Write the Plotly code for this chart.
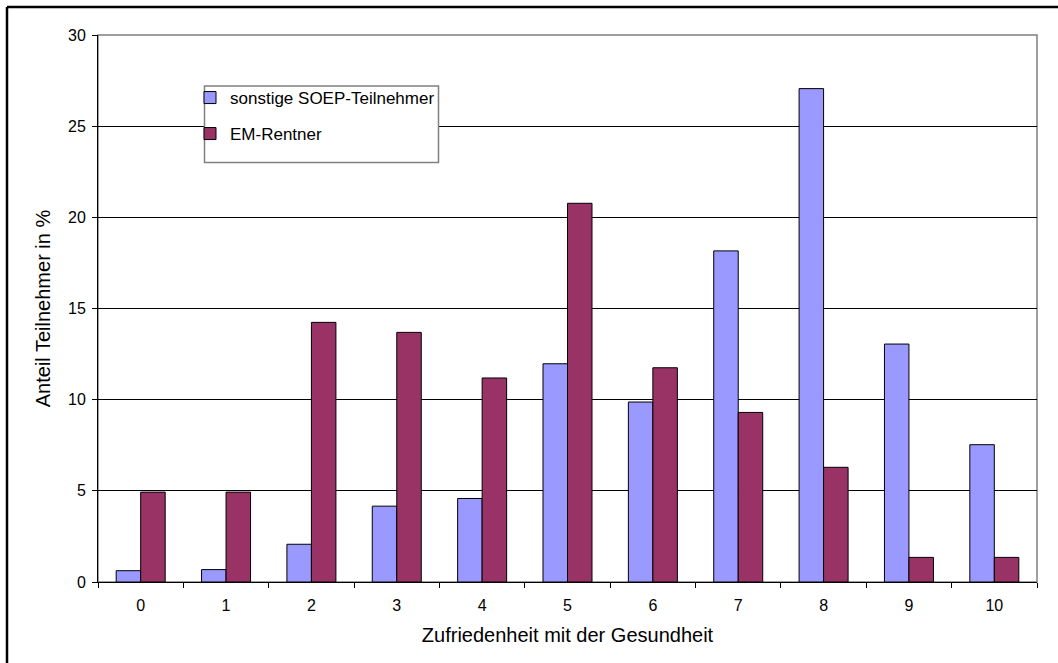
import plotly.graph_objects as go

# Zufriedenheit mit der Gesundheit (Skala 0-10), Anteil in %
categories = ["0", "1", "2", "3", "4", "5", "6", "7", "8", "9", "10"]
sonstige = [0.62, 0.68, 2.07, 4.16, 4.58, 11.97, 9.87, 18.16, 27.06, 13.05, 7.53]
em_rentner = [4.93, 4.93, 14.24, 13.69, 11.19, 20.77, 11.75, 9.30, 6.29, 1.35, 1.35]
y_ticks = [0, 5, 10, 15, 20, 25, 30]

FONT = "Arial, 'Liberation Sans', sans-serif"

W, H = 1058, 663
L, R, T, B = 98, 21, 35, 81
pw, ph = W - L - R, H - T - B


def px_x(x):
    return (x - L) / pw


def px_y(y):
    return (H - B - y) / ph


fig = go.Figure()
fig.add_trace(go.Bar(
    x=categories, y=sonstige, name="sonstige SOEP-Teilnehmer",
    marker=dict(color="#9999FF", line=dict(color="#000000", width=1)),
    legend="legend",
))
fig.add_trace(go.Bar(
    x=categories, y=em_rentner, name="EM-Rentner",
    marker=dict(color="#993366", line=dict(color="#000000", width=1)),
    legend="legend2",
))

legend_common = dict(
    bgcolor="rgba(0,0,0,0)", borderwidth=0,
    font=dict(family=FONT, size=17, color="#000000"),
    xanchor="left", yanchor="middle", xref="paper", yref="paper",
)

fig.update_layout(
    width=W, height=H,
    margin=dict(l=L, r=R, t=T, b=B),
    paper_bgcolor="#ffffff", plot_bgcolor="#ffffff",
    barmode="group", bargap=0.426, bargroupgap=0,
    font=dict(family=FONT, color="#000000"),
    showlegend=True,
    legend=dict(x=px_x(190), y=px_y(98), **legend_common),
    legend2=dict(x=px_x(190), y=px_y(134), **legend_common),
    xaxis=dict(
        type="category",
        tickson="boundaries", ticks="outside", ticklen=5, tickcolor="#000000",
        ticklabelstandoff=9,
        tickfont=dict(family=FONT, size=16, color="#000000"),
        showline=True, linecolor="#000000", linewidth=1,
        showgrid=False,
        title=dict(text="Zufriedenheit mit der Gesundheit",
                   font=dict(family=FONT, size=20, color="#000000"), standoff=14),
    ),
    yaxis=dict(
        range=[0, 30], tickvals=y_ticks,
        ticks="outside", ticklen=5, tickcolor="#000000",
        ticklabelstandoff=3,
        tickfont=dict(family=FONT, size=16, color="#000000"),
        showline=True, linecolor="#000000", linewidth=1,
        showgrid=True, gridcolor="#000000", gridwidth=1,
        zeroline=False,
        title=dict(text="Anteil Teilnehmer in %",
                   font=dict(family=FONT, size=20, color="#000000"), standoff=12),
    ),
    shapes=[
        # plot area frame (top / right)
        dict(type="rect", xref="paper", yref="paper", x0=0, x1=1, y0=0, y1=1,
             line=dict(color="#808080", width=1.5), layer="below"),
        # legend box
        dict(type="rect", xref="paper", yref="paper",
             x0=px_x(204.5), x1=px_x(438.5), y0=px_y(162.5), y1=px_y(86),
             line=dict(color="#808080", width=1.5), fillcolor="#ffffff", layer="above"),
        # outer chart frame (left / top edges)
        dict(type="line", xref="paper", yref="paper",
             x0=px_x(7), x1=px_x(7), y0=px_y(7), y1=px_y(H + 5),
             line=dict(color="#000000", width=2.5)),
        dict(type="line", xref="paper", yref="paper",
             x0=px_x(7), x1=px_x(W + 5), y0=px_y(7), y1=px_y(7),
             line=dict(color="#000000", width=2.5)),
    ],
)

fig.write_html("out.html")
